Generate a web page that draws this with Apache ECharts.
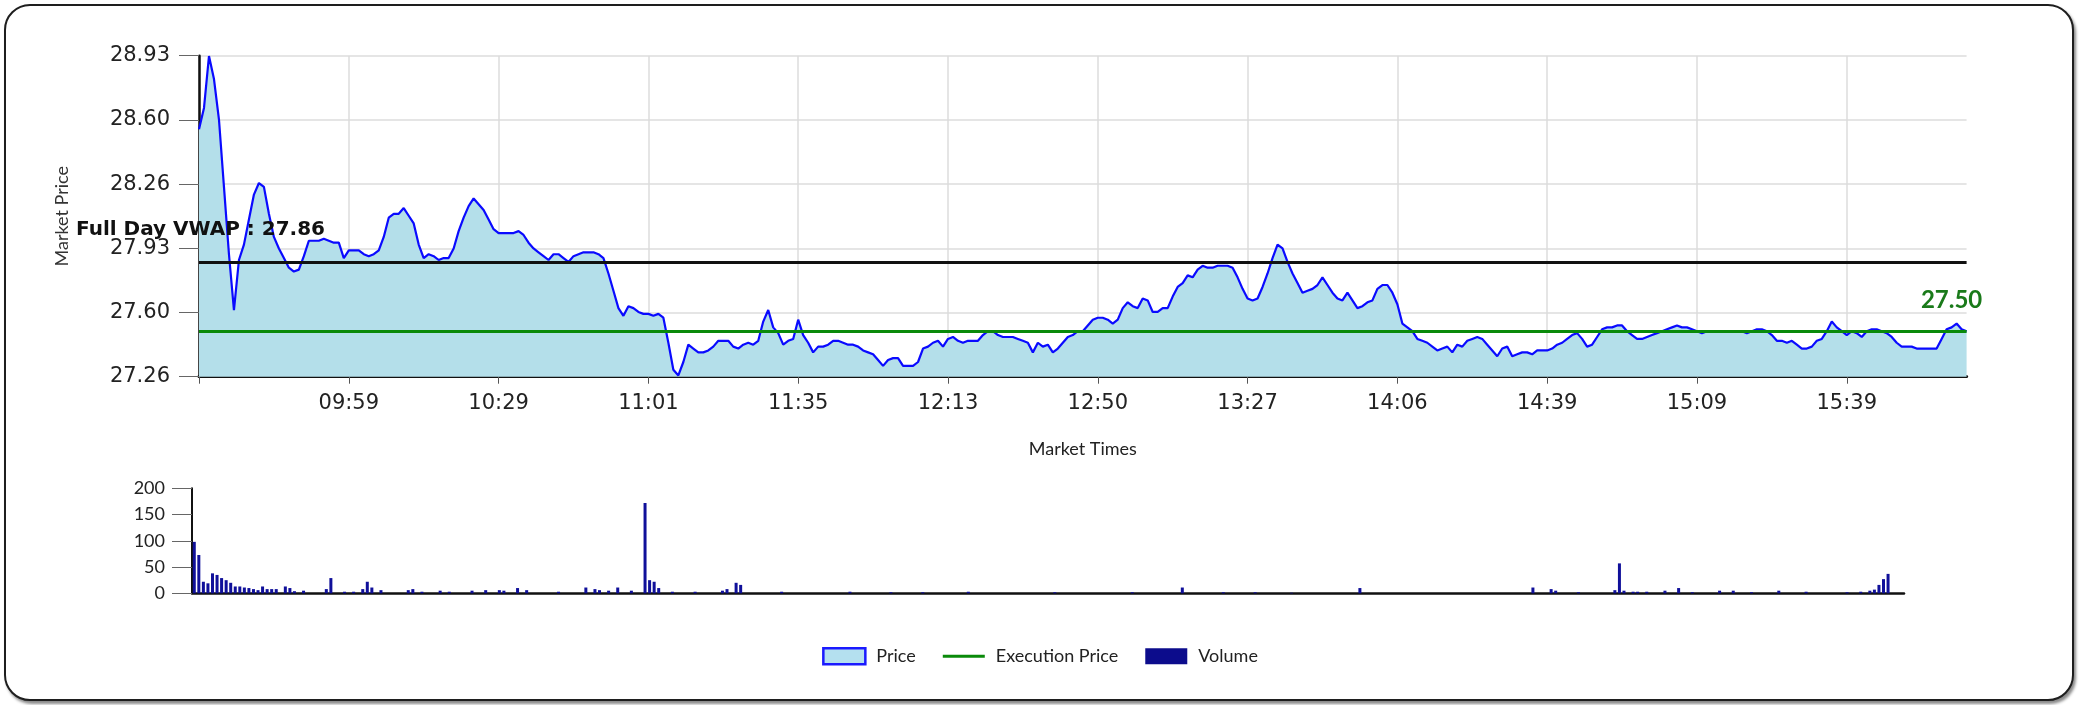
<!DOCTYPE html>
<html>
<head>
<meta charset="utf-8">
<script src="https://cdn.jsdelivr.net/npm/echarts@6/dist/echarts.min.js"></script>
<style>
html,body{margin:0;padding:0;background:#ffffff;width:2080px;height:705px;overflow:hidden;}
#frame{position:absolute;left:4px;top:4px;width:2066px;height:693px;border:2.5px solid #1e1e1e;border-radius:26px;box-shadow:2px 3px 3px #8a8a8a;background:#fff;}
#chart{position:absolute;left:0;top:0;width:2080px;height:705px;}
</style>
</head>
<body>
<div id="frame"></div>
<div id="chart"></div>
<script>
// ---- data ----
const timeTicks = ['09:59','10:29','11:01','11:35','12:13','12:50','13:27','14:06','14:39','15:09','15:39'];
const pointsPerTick = 30;

const priceValues = [
  28.55,28.66,28.93,28.81,28.60,28.25,27.90,27.61,27.87,27.95,
  28.08,28.21,28.27,28.25,28.11,27.99,27.93,27.88,27.83,27.81,
  27.82,27.89,27.97,27.97,27.97,27.98,27.97,27.96,27.96,27.88,
  27.92,27.92,27.92,27.90,27.89,27.90,27.92,27.99,28.09,28.11,
  28.11,28.14,28.10,28.06,27.95,27.88,27.90,27.89,27.87,27.88,
  27.88,27.93,28.02,28.09,28.15,28.19,28.16,28.13,28.08,28.03,
  28.01,28.01,28.01,28.01,28.02,28.00,27.96,27.93,27.91,27.89,
  27.87,27.90,27.90,27.88,27.86,27.89,27.90,27.91,27.91,27.91,
  27.90,27.88,27.80,27.71,27.62,27.58,27.63,27.62,27.60,27.59,
  27.59,27.58,27.59,27.57,27.44,27.30,27.27,27.34,27.43,27.41,
  27.39,27.39,27.40,27.42,27.45,27.45,27.45,27.42,27.41,27.43,
  27.44,27.43,27.45,27.55,27.61,27.52,27.49,27.43,27.45,27.46,
  27.56,27.48,27.44,27.39,27.42,27.42,27.43,27.45,27.45,27.44,
  27.43,27.43,27.42,27.40,27.39,27.38,27.35,27.32,27.35,27.36,
  27.36,27.32,27.32,27.32,27.34,27.41,27.42,27.44,27.45,27.42,
  27.46,27.47,27.45,27.44,27.45,27.45,27.45,27.48,27.50,27.50,
  27.48,27.47,27.47,27.47,27.46,27.45,27.44,27.39,27.44,27.42,
  27.43,27.39,27.41,27.44,27.47,27.48,27.50,27.50,27.53,27.56,
  27.57,27.57,27.56,27.54,27.56,27.62,27.65,27.63,27.62,27.67,
  27.66,27.60,27.60,27.62,27.62,27.68,27.73,27.75,27.79,27.78,
  27.82,27.84,27.83,27.83,27.84,27.84,27.84,27.83,27.78,27.72,
  27.67,27.66,27.67,27.73,27.80,27.88,27.95,27.93,27.86,27.80,
  27.75,27.70,27.71,27.72,27.74,27.78,27.74,27.70,27.67,27.66,
  27.70,27.66,27.62,27.63,27.65,27.66,27.72,27.74,27.74,27.70,
  27.64,27.54,27.52,27.50,27.46,27.45,27.44,27.42,27.40,27.41,
  27.42,27.39,27.43,27.42,27.45,27.46,27.47,27.46,27.43,27.40,
  27.37,27.41,27.42,27.37,27.38,27.39,27.39,27.38,27.40,27.40,
  27.40,27.41,27.43,27.44,27.46,27.48,27.49,27.46,27.42,27.43,
  27.47,27.51,27.52,27.52,27.53,27.53,27.50,27.48,27.46,27.46,
  27.47,27.48,27.49,27.50,27.51,27.52,27.53,27.52,27.52,27.51,
  27.50,27.49,27.50,27.50,27.50,27.50,27.50,27.50,27.50,27.50,
  27.49,27.50,27.51,27.51,27.50,27.48,27.45,27.45,27.44,27.45,
  27.43,27.41,27.41,27.42,27.45,27.46,27.50,27.55,27.52,27.50,
  27.48,27.50,27.49,27.47,27.50,27.51,27.51,27.50,27.49,27.47,
  27.44,27.42,27.42,27.42,27.41,27.41,27.41,27.41,27.41,27.46,
  27.51,27.52,27.54,27.51,27.50
];

const volumeValues = [
  98,73,22,19,38,35,29,25,20,13,13,11,10,8,6,13,8,8,8,0,
  13,10,4,0,5,0,0,0,0,8,29,0,0,3,0,3,0,8,22,11,
  0,6,0,0,0,0,0,6,8,0,3,0,0,0,5,0,3,0,0,0,
  0,5,0,0,6,0,0,6,5,0,0,10,0,6,0,0,0,0,0,0,
  3,0,0,0,0,0,11,0,8,6,0,5,0,11,0,0,5,0,0,172,
  25,22,10,0,0,3,0,0,0,0,3,0,0,0,0,0,5,8,0,20,
  16,0,0,0,0,0,0,0,0,3,0,0,0,0,0,0,0,0,0,0,
  0,0,0,0,3,0,0,0,0,0,0,0,0,2,0,0,0,0,0,0,
  2,0,0,0,0,0,0,0,0,0,3,0,0,0,0,0,0,0,0,0,
  0,0,0,0,0,0,0,0,0,2,0,0,0,0,0,0,0,0,0,0,
  0,0,0,0,0,0,2,0,0,0,0,0,0,0,0,0,0,11,0,0,
  0,0,0,0,0,0,2,0,0,0,0,0,0,2,0,0,0,0,0,0,
  0,1,0,0,0,0,0,0,0,0,0,0,0,0,0,0,10,0,0,0,
  0,0,0,0,0,0,0,0,0,0,0,0,0,0,0,0,0,0,0,0,
  0,0,0,0,0,0,0,0,0,0,0,0,0,0,11,0,0,0,8,5,
  0,0,0,0,2,0,0,0,0,0,0,0,6,57,5,0,3,3,0,3,
  0,0,0,5,0,0,10,0,0,2,0,0,0,0,0,5,0,0,5,0,
  0,0,2,0,0,0,0,0,5,0,0,0,0,0,3,0,0,0,0,0,
  0,0,0,2,0,0,3,0,5,7,16,27,37,0,0,0
];

const vwapPrice = 27.86;
const executionPrice = 27.50;
const priceAxisMin = 27.2636;
const priceAxisStep = 0.3336;
const priceAxisMax = 28.9316;
const volumeAxisMax = 200;
const volumeAxisStep = 50;

// ---- build ----
const priceCategories = priceValues.map((_, i) =>
  (i > 0 && i % pointsPerTick === 0) ? (timeTicks[i / pointsPerTick - 1] || '') : '');
const volumeCategories = volumeValues.map((_, i) => String(i));

const FONT = 'Lato, "Noto Sans", sans-serif';
const TICKFONT = '"DejaVu Sans", sans-serif';
const chart = echarts.init(document.getElementById('chart'), null, {renderer: 'canvas'});

const option = {
  animation: false,
  backgroundColor: 'transparent',
  textStyle: {fontFamily: FONT},
  grid: [
    {left: 199, top: 55.7, width: 1767.6, height: 321, containLabel: false},
    {left: 192, top: 488.3, width: 1712, height: 105, containLabel: false}
  ],
  legend: {
    top: 642,
    left: 'center',
    itemWidth: 42,
    itemHeight: 16,
    itemGap: 27,
    textStyle: {fontSize: 18, color: '#222', fontFamily: FONT, padding: [0, 0, 0, 6]},
    data: [
      {name: 'Price', icon: 'rect', itemStyle: {color: '#b4e0ef', borderColor: '#1a1aff', borderWidth: 2.5}},
      {name: 'Execution Price', icon: 'path://M0,0L42,0L42,3L0,3Z', itemStyle: {color: '#0a8a0a'}},
      {name: 'Volume', icon: 'rect', itemStyle: {color: '#0c0c8c'}}
    ]
  },
  xAxis: [
    {
      type: 'category', gridIndex: 0, data: priceCategories, boundaryGap: false,
      axisLine: {lineStyle: {color: '#111', width: 3}},
      axisTick: {show: true, interval: pointsPerTick - 1, length: 7, lineStyle: {color: '#555', width: 1}},
      axisLabel: {interval: pointsPerTick - 1, fontSize: 21, color: '#222', margin: 16, fontFamily: TICKFONT},
      splitLine: {show: true, interval: pointsPerTick - 1, lineStyle: {color: '#dddddd', width: 1.5}},
      name: 'Market Times', nameLocation: 'middle', nameGap: 63,
      nameTextStyle: {fontSize: 18, color: '#222', fontFamily: FONT}
    },
    {
      type: 'category', gridIndex: 1, data: volumeCategories, boundaryGap: true,
      axisLine: {lineStyle: {color: '#111', width: 2.5}},
      axisTick: {show: false}, axisLabel: {show: false}, splitLine: {show: false}
    }
  ],
  yAxis: [
    {
      type: 'value', gridIndex: 0, min: priceAxisMin, max: priceAxisMax, interval: priceAxisStep,
      axisLine: {show: true, lineStyle: {color: '#111', width: 2.5}},
      axisTick: {show: true, length: 20, lineStyle: {color: '#666', width: 1}},
      axisLabel: {fontSize: 21, color: '#222', margin: 29, fontFamily: TICKFONT, formatter: v => v.toFixed(2)},
      splitLine: {show: true, lineStyle: {color: '#dddddd', width: 1.5}},
      name: 'Market Price', nameLocation: 'middle', nameGap: 128, nameRotate: 90,
      nameTextStyle: {fontSize: 18, color: '#333', fontFamily: FONT}
    },
    {
      type: 'value', gridIndex: 1, min: 0, max: volumeAxisMax, interval: volumeAxisStep,
      axisLine: {show: true, lineStyle: {color: '#111', width: 2}},
      axisTick: {show: true, length: 20, lineStyle: {color: '#666', width: 1}},
      axisLabel: {fontSize: 18, color: '#222', margin: 27, fontFamily: FONT},
      splitLine: {show: false}
    }
  ],
  series: [
    {
      name: 'Price', type: 'line', xAxisIndex: 0, yAxisIndex: 0, data: priceValues,
      symbol: 'none', showSymbol: false, smooth: false,
      lineStyle: {color: '#0a0aff', width: 2.2},
      itemStyle: {color: '#0a0aff'},
      areaStyle: {color: '#b4dfea', opacity: 1, origin: 'start'},
      markLine: {
        silent: true, symbol: ['none', 'none'], label: {show: false},
        data: [
          {yAxis: vwapPrice, lineStyle: {color: '#111', width: 3, type: 'solid'}},
          {yAxis: executionPrice, lineStyle: {color: '#0a8a0a', width: 3, type: 'solid'}}
        ]
      },
      z: 2
    },
    {
      name: 'Execution Price', type: 'line', xAxisIndex: 0, yAxisIndex: 0, data: [],
      itemStyle: {color: '#0a8a0a'}, lineStyle: {color: '#0a8a0a', width: 3}
    },
    {
      name: 'Volume', type: 'bar', xAxisIndex: 1, yAxisIndex: 1, data: volumeValues,
      barWidth: 3, itemStyle: {color: '#10109a'}
    }
  ]
};
chart.setOption(option);

const pV = chart.convertToPixel({xAxisIndex: 0, yAxisIndex: 0}, [0, vwapPrice]);
const pE = chart.convertToPixel({xAxisIndex: 0, yAxisIndex: 0}, [priceValues.length - 1, executionPrice]);
chart.setOption({
  graphic: [
    {
      type: 'text', x: pV[0] - 123, y: pV[1] - 32, z: 100,
      style: {text: 'Full Day VWAP : ' + vwapPrice.toFixed(2), fill: '#111',
        font: 'bold 20px "DejaVu Sans"', textAlign: 'left', verticalAlign: 'middle', textVerticalAlign: 'middle'}
    },
    {
      type: 'text', x: pE[0] - 15, y: pE[1] - 31, z: 100,
      style: {text: executionPrice.toFixed(2), fill: '#1a7a1a',
        font: 'bold 24px Lato', textAlign: 'center', verticalAlign: 'middle', textVerticalAlign: 'middle'}
    }
  ]
});
</script>
</body>
</html>
